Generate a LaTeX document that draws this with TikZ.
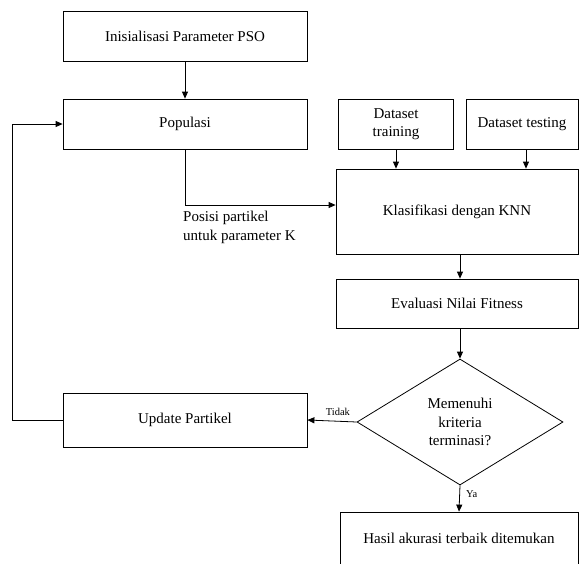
\documentclass[tikz,border=0pt]{standalone}
\usepackage{fontspec}
\setmainfont{Liberation Serif}
\usetikzlibrary{shapes.geometric,arrows.meta}
\begin{document}
\begin{tikzpicture}[x=1pt,y=-1pt,
  box/.style={draw,line width=0.8pt,rectangle,inner sep=0pt,align=center,font=\fontsize{15}{18}\selectfont},
  dec/.style={draw,line width=0.8pt,diamond,aspect=1.63,inner sep=0pt,align=center,
    font=\fontsize{15}{18.5}\selectfont,minimum width=206pt,minimum height=126pt},
  arr/.style={line width=0.8pt,-{Triangle[length=7pt,width=6pt]}},
  lbl/.style={font=\fontsize{10.5}{12}\selectfont,inner sep=0pt}]
\useasboundingbox (0,0) rectangle (579,563);
\fill[white] (0,0) rectangle (579,563);

\node[box,minimum width=244pt,minimum height=50pt] (init) at (185,36) {Inisialisasi Parameter PSO};
\node[box,minimum width=244pt,minimum height=50pt] (pop) at (185,124) {Populasi};
\node[box,minimum width=115pt,minimum height=50pt] (train) at (396,124) {Dataset\\training};
\node[box,minimum width=112pt,minimum height=50pt] (test) at (522,124) {Dataset testing};
\node[box,minimum width=242pt,minimum height=85pt] (knn) at (457,211.5) {Klasifikasi dengan KNN};
\node[box,minimum width=242pt,minimum height=49pt] (eval) at (457,303.5) {Evaluasi Nilai Fitness};
\node[dec] (dec) at (460,422) {Memenuhi\\kriteria\\terminasi?};
\node[box,minimum width=244pt,minimum height=54pt] (upd) at (185,420) {Update Partikel};
\node[box,minimum width=238pt,minimum height=52pt] (hasil) at (459,538) {Hasil akurasi terbaik ditemukan};

\node[anchor=north west,align=left,inner sep=0pt,font=\fontsize{15}{18.5}\selectfont] (pos) at (183,211) {Posisi partikel\\untuk parameter K};

\coordinate (loop) at (12,420);

\draw[arr] (init) -- (pop);
\draw[arr] (train.south) -- (train.south |- knn.north);
\draw[arr] ([xshift=4pt]test.south) -- ([xshift=4pt]test.south |- knn.north);
\draw[arr] (pop.south) |- ([yshift=6.5pt]knn.west);
\draw[arr] (knn.south -| dec.north) -- (eval.north -| dec.north);
\draw[arr] (eval.south -| dec.north) -- (dec.north);
\draw[arr] (dec.west) -- node[lbl,pos=0.38,above=5pt] (tidak) {Tidak} (upd.east);
\draw[arr] (dec.south) -- node[lbl,pos=0.35,right=6pt] (ya) {Ya} (hasil.north);
\draw[arr] (upd.west) -- (loop) |- (pop.west);
\end{tikzpicture}
\end{document}
